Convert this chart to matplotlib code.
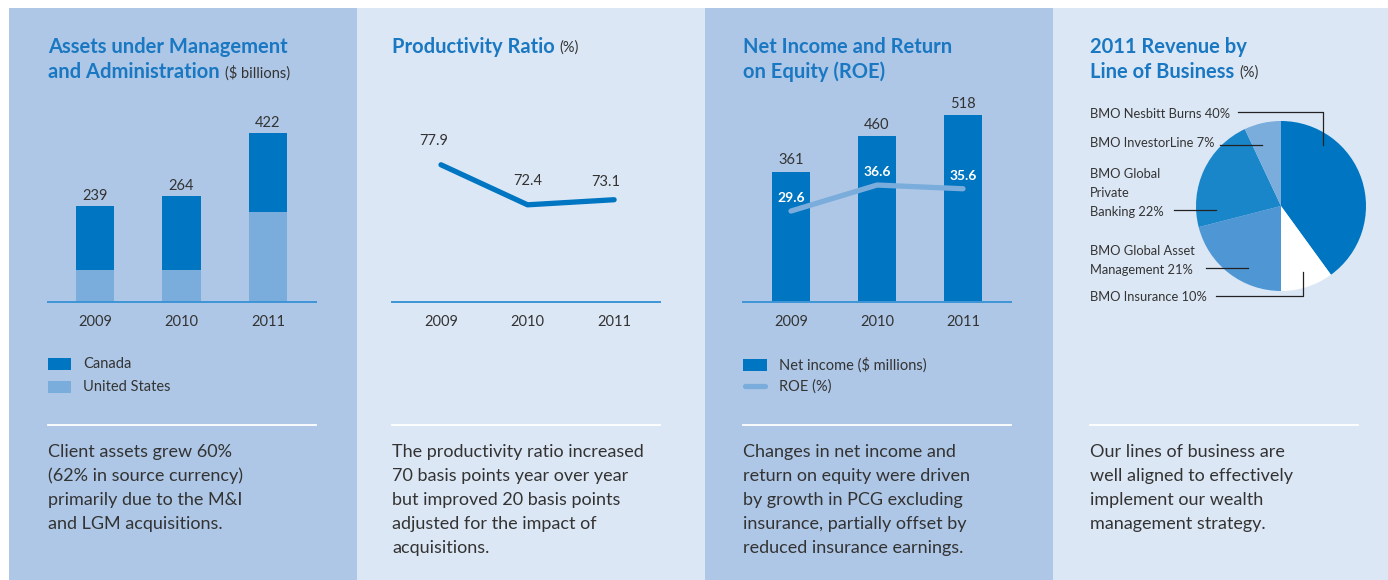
import numpy as np
import matplotlib
matplotlib.use('Agg')
import matplotlib.pyplot as plt
from matplotlib.patches import Rectangle
from matplotlib.lines import Line2D

plt.rcParams['font.family'] = ['Lato', 'DejaVu Sans']

# Data
years = ['2009', '2010', '2011']
aum_total = [239, 264, 422]
aum_us = [80, 80, 224]
aum_canada = [t - u for t, u in zip(aum_total, aum_us)]

productivity = [77.9, 72.4, 73.1]

net_income = [361, 460, 518]
roe = [29.6, 36.6, 35.6]

pie_labels = ['BMO Nesbitt Burns 40%', 'BMO Insurance 10%',
              'BMO Global Asset\nManagement 21%', 'BMO Global\nPrivate\nBanking 22%',
              'BMO InvestorLine 7%']
pie_values = [40, 10, 21, 22, 7]

notes = [
    ['Client assets grew 60%', '(62% in source currency)',
     'primarily due to the M&I', 'and LGM acquisitions.'],
    ['The productivity ratio increased', '70 basis points year over year',
     'but improved 20 basis points', 'adjusted for the impact of', 'acquisitions.'],
    ['Changes in net income and', 'return on equity were driven',
     'by growth in PCG excluding', 'insurance, partially offset by',
     'reduced insurance earnings.'],
    ['Our lines of business are', 'well aligned to effectively',
     'implement our wealth', 'management strategy.'],
]

# Colours
dark_bg = '#aec7e6'
light_bg = '#dce7f5'
blue = '#0075c2'
light_blue = '#7aaddb'
title_blue = '#1a78c2'
grey = '#333333'
axis_blue = '#3d95d6'

W, H = 1388, 580
fig = plt.figure(figsize=(W / 100, H / 100), dpi=100)
fig.patch.set_facecolor('white')


def fx(x):
    return x / W


def fy(y):
    return 1 - y / H


def add_ax(x0, y0, x1, y1):
    ax = fig.add_axes([fx(x0), fy(y1), (x1 - x0) / W, (y1 - y0) / H])
    ax.patch.set_alpha(0)
    for s in ['top', 'right', 'left']:
        ax.spines[s].set_visible(False)
    ax.spines['bottom'].set_color(axis_blue)
    ax.spines['bottom'].set_linewidth(1.4)
    ax.set_yticks([])
    ax.tick_params(axis='x', length=0, pad=9, labelsize=10.5, labelcolor=grey)
    return ax


# Panel backgrounds
panels = [(9, 357, dark_bg), (357, 705, light_bg), (705, 1053, dark_bg), (1053, 1388, light_bg)]
for x0, x1, c in panels:
    fig.patches.append(Rectangle((fx(x0), 0), (x1 - x0) / W, fy(8), transform=fig.transFigure,
                                 facecolor=c, edgecolor='none', zorder=-5))

# Titles
renderer = fig.canvas.get_renderer()


def title(x, lines, unit):
    for i, ln in enumerate(lines):
        t = fig.text(fx(x), fy(47 + i * 25), ln, fontsize=14.5, fontweight='bold',
                     color=title_blue, va='center', ha='left')
        if i == len(lines) - 1 and unit:
            bb = t.get_window_extent(renderer)
            fig.text(bb.x1 / W + fx(5), fy(48 + i * 25), unit, fontsize=10.5,
                     color=grey, va='center', ha='left')


title(48, ['Assets under Management', 'and Administration'], '($ billions)')
title(392, ['Productivity Ratio'], '(%)')
title(743, ['Net Income and Return', 'on Equity (ROE)'], '')
title(1090, ['2011 Revenue by', 'Line of Business'], '(%)')

# Notes + separator lines
for x0, lines in zip([48, 392, 743, 1090], notes):
    fig.add_artist(Line2D([fx(x0), fx(x0 + 268)], [fy(425), fy(425)], color='white', lw=1.3))
    for i, ln in enumerate(lines):
        fig.text(fx(x0), fy(452 + i * 24), ln, fontsize=13, color=grey, va='center')

x = np.arange(len(years))

# Panel 1: stacked bars
ax1 = add_ax(48, 100, 316, 302)
ax1.bar(x, aum_us, width=0.44, color=light_blue, label='United States')
ax1.bar(x, aum_canada, bottom=aum_us, width=0.44, color=blue, label='Canada')
for xi, t in zip(x, aum_total):
    ax1.text(xi, t + 8, str(t), ha='center', va='bottom', fontsize=10.5, color=grey)
ax1.set_xlim(-0.543, 2.555)
ax1.set_ylim(0, 505)
ax1.set_xticks(x, years)

for i, (lab, c) in enumerate([('Canada', blue), ('United States', light_blue)]):
    y = 364 + i * 23
    fig.patches.append(Rectangle((fx(48), fy(y + 6)), 23 / W, 12 / H, transform=fig.transFigure,
                                 facecolor=c, edgecolor='none'))
    fig.text(fx(83), fy(y), lab, fontsize=10.5, color=grey, va='center')

# Panel 2: line
ax2 = add_ax(392, 100, 660, 302)
ax2.plot(x, productivity, color=blue, lw=3.8, solid_capstyle='round', solid_joinstyle='round')
offs = [(-5, 12), (0, 12), (-6, 8)]
for xi, v, o in zip(x, productivity, offs):
    ax2.annotate(f'{v:.1f}', (xi, v), xytext=o, textcoords='offset points',
                 ha='center', va='bottom', fontsize=10.5, color=grey)
ax2.set_xlim(-0.566, 2.53)
ax2.set_ylim(59.05, 86.8)
ax2.set_xticks(x, years)

# Panel 3: bars + ROE line
ax3 = add_ax(743, 100, 1011, 302)
ax3.bar(x, net_income, width=0.44, color=blue)
for xi, v in zip(x, net_income):
    ax3.text(xi, v + 12, str(v), ha='center', va='bottom', fontsize=10.5, color=grey)
ax3.set_xlim(-0.558, 2.558)
ax3.set_ylim(0, 560)
ax3.set_xticks(x, years)
ax3b = ax3.twinx()
ax3b.set_axis_off()
ax3b.plot(x, roe, color=light_blue, lw=3.8, solid_capstyle='round')
for xi, v in zip(x, roe):
    ax3b.annotate(f'{v:.1f}', (xi, v), xytext=(0, 5), textcoords='offset points',
                  ha='center', va='bottom', fontsize=10, color='white', fontweight='bold')
ax3b.set_ylim(5.1, 59.5)

fig.patches.append(Rectangle((fx(743), fy(371)), 24 / W, 12 / H, transform=fig.transFigure,
                             facecolor=blue, edgecolor='none'))
fig.add_artist(Line2D([fx(745), fx(765)], [fy(386), fy(386)], color=light_blue, lw=3.8,
                      solid_capstyle='round'))
fig.text(fx(779), fy(365), 'Net income ($ millions)', fontsize=10.5, color=grey, va='center')
fig.text(fx(779), fy(387), 'ROE (%)', fontsize=10.5, color=grey, va='center')

# Panel 4: pie
ax4 = fig.add_axes([fx(1196), fy(291), 170 / W, 170 / H])
pie_colors = [blue, 'white', '#4f97d4', '#1a86ca', light_blue]
ax4.pie(pie_values, colors=pie_colors, startangle=90, counterclock=False, radius=1)
ax4.set_xlim(-1, 1)
ax4.set_ylim(-1, 1)
ax4.set_aspect('auto')

label_pos = [(1090, 114), (1090, 297), (1090, 260), (1090, 193), (1090, 143)]
leaders = [
    [(1238, 112), (1323, 112), (1323, 145)],
    [(1216, 296), (1303, 296), (1303, 272)],
    [(1206, 268), (1248, 268)],
    [(1174, 210), (1216, 210)],
    [(1220, 145), (1262, 145)],
]
for lab, (lx, ly), pts in zip(pie_labels, label_pos, leaders):
    nl = lab.count('\n')
    for j, part in enumerate(lab.split('\n')):
        fig.text(fx(lx), fy(ly + (j - nl / 2) * 19), part, fontsize=9.3, color=grey, va='center')
    fig.add_artist(Line2D([fx(p[0]) for p in pts], [fy(p[1]) for p in pts], color='#222222',
                          lw=0.9, zorder=3))

fig.savefig('out.png', dpi=100)
